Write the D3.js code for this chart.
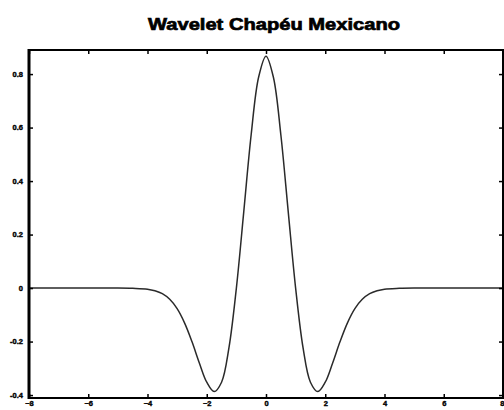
<html>
<head>
  <script src="https://d3js.org/d3.v7.min.js"></script>
  <style>
    body { margin: 0; background: #fff; }
    .tick text { font-family: "Liberation Sans", Arial, sans-serif; font-weight: bold; font-size: 7.5px; fill: #000; stroke: #000; stroke-width: 0.4px; }
  </style>
</head>
<body>
  <div id="chart"></div>
  <script>
    // values
    const xVals = [-8, -6, -5, -4.5, -4, -3.75, -3.5, -3.25, -3, -2.75, -2.5, -2.25, -2, -1.75, -1.5, -1.25, -1, -0.75, -0.5, -0.25,
                   0, 0.25, 0.5, 0.75, 1, 1.25, 1.5, 1.75, 2, 2.25, 2.5, 2.75, 3, 3.25, 3.5, 3.75, 4, 4.5, 5, 6, 8];
    const yVals = [0, 0, 0, -0.001, -0.004, -0.010, -0.021, -0.042, -0.077, -0.130, -0.200, -0.280, -0.352, -0.387, -0.352, -0.223, 0, 0.286, 0.574, 0.788,
                   0.867, 0.788, 0.574, 0.286, 0, -0.223, -0.352, -0.387, -0.352, -0.280, -0.200, -0.130, -0.077, -0.042, -0.021, -0.010, -0.004, -0.001, 0, 0, 0];
    const xTicks = [-8, -6, -4, -2, 0, 2, 4, 6, 8];
    const yTicks = [-0.4, -0.2, 0, 0.2, 0.4, 0.6, 0.8];
    const title = "Wavelet Chapéu Mexicano";

    const w = 504, h = 410;
    const padL = 29, padR = 503, padT = 50, padB = 398;

    const svg = d3.select("#chart").append("svg")
      .attr("width", w)
      .attr("height", h);

    const xScale = d3.scaleLinear().domain([-8, 8]).range([padL, padR]);
    const yScale = d3.scaleLinear().domain([-0.411, 0.890]).range([padB, padT]);

    svg.append("text")
      .attr("x", 274)
      .attr("y", 30)
      .attr("text-anchor", "middle")
      .attr("textLength", 252)
      .attr("lengthAdjust", "spacingAndGlyphs")
      .style("font-family", "Liberation Sans, Arial, sans-serif")
      .style("font-weight", "bold")
      .style("font-size", "17px")
      .style("stroke", "#000")
      .style("stroke-width", "0.7px")
      .text(title);

    // curve
    const pts = xVals.map((x, i) => [x, yVals[i]]);
    const line = d3.line()
      .x(d => xScale(d[0]))
      .y(d => yScale(d[1]))
      .curve(d3.curveCatmullRom);

    svg.append("path")
      .datum(pts)
      .attr("d", line)
      .attr("fill", "none")
      .attr("stroke", "#2a2a2a")
      .attr("stroke-width", 1.5);

    // axes, ticks inward
    const fmt = d => String(+d.toFixed(1));
    svg.append("g")
      .attr("transform", "translate(0," + padB + ")")
      .call(d3.axisBottom(xScale).tickValues(xTicks).tickSizeInner(-4).tickSizeOuter(0).tickPadding(3).tickFormat(d3.format("d")))
      .call(g => g.select(".domain").remove())
      .call(g => g.selectAll(".tick text").filter(d => d === 8).attr("text-anchor", "end").attr("dx", "1"));

    svg.append("g")
      .attr("transform", "translate(0," + padT + ")")
      .call(d3.axisTop(xScale).tickValues(xTicks).tickSizeInner(-4).tickSizeOuter(0).tickFormat(""))
      .call(g => g.select(".domain").remove());

    svg.append("g")
      .attr("transform", "translate(" + padL + ",0)")
      .call(d3.axisLeft(yScale).tickValues(yTicks).tickSizeInner(-4).tickSizeOuter(0).tickPadding(6).tickFormat(fmt))
      .call(g => g.select(".domain").remove());

    svg.append("g")
      .attr("transform", "translate(" + padR + ",0)")
      .call(d3.axisRight(yScale).tickValues(yTicks).tickSizeInner(-4).tickSizeOuter(0).tickFormat(""))
      .call(g => g.select(".domain").remove());

    svg.selectAll(".tick line").attr("stroke", "#000").attr("stroke-width", 1.5);

    // box
    svg.append("rect")
      .attr("x", padL)
      .attr("y", padT)
      .attr("width", padR - padL)
      .attr("height", padB - padT)
      .attr("fill", "none")
      .attr("stroke", "#000")
      .attr("stroke-width", 2);

    svg.append("line")
      .attr("x1", padL).attr("x2", padL)
      .attr("y1", padT - 1).attr("y2", padB + 1)
      .attr("stroke", "#000")
      .attr("stroke-width", 3);
  </script>
</body>
</html>
